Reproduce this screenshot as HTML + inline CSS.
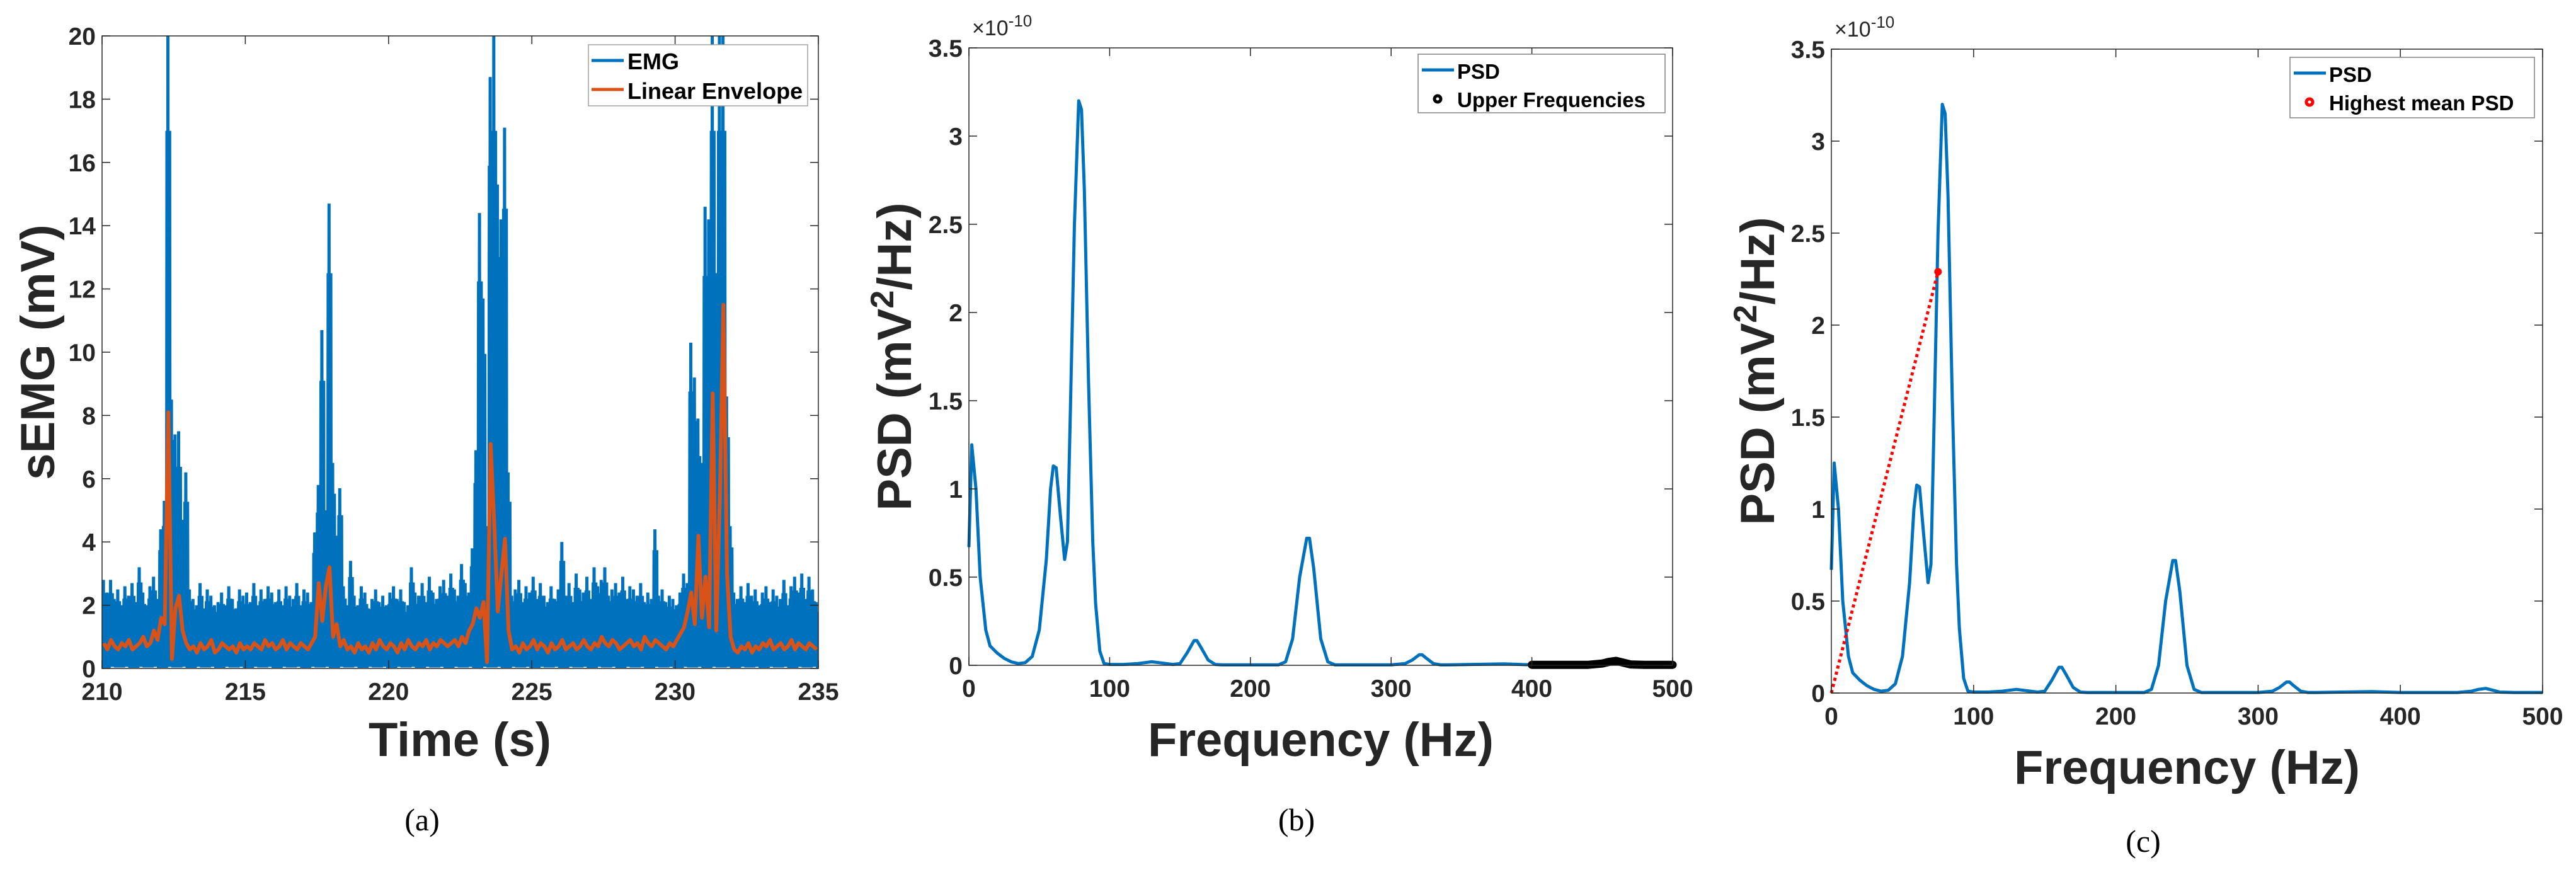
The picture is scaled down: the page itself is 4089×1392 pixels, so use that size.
<!DOCTYPE html>
<html><head><meta charset="utf-8"><style>
html,body{margin:0;padding:0;background:#fff;}
svg{display:block;font-family:"Liberation Sans",Arial,sans-serif;}
</style></head><body>
<svg id="fig" width="4089" height="1392" viewBox="0 0 4089 1392" xmlns="http://www.w3.org/2000/svg"></svg>
<script>
// ---- Panel (a) data: EMG bin maxima (0.125 s bins from 210 s) and linear envelope ----
const emgStart = 210;
const emgBin = 0.125;
const emgMax = [2.8,2.4,2.8,2.2,2.5,2.0,2.6,2.3,2.7,2.1,3.2,2.4,2.0,2.6,2.9,2.2,
4.4,5.3,20,8.5,7.4,7.5,4.7,6.2,
2.5,2.2,2.0,2.7,1.9,2.5,2.3,2.0,
2.1,2.4,2.0,2.6,2.2,1.9,2.5,2.3,2.4,2.1,2.7,2.0,2.5,2.2,2.6,2.4,
2.1,2.5,2.0,2.6,2.3,2.2,2.7,2.0,2.5,2.4,2.1,4.3,
5.8,10.7,5.0,14.7,6.5,4.2,5.7,2.6,
2.0,3.4,2.3,2.0,2.6,2.4,1.9,2.2,2.5,2.1,2.3,2.0,2.4,2.6,2.2,2.5,2.1,2.0,3.2,2.4,2.3,2.7,2.1,2.9,2.4,2.2,2.6,2.8,2.3,3.0,2.5,2.3,3.3,2.7,2.4,3.8,
6.9,14.4,11.7,4.5,18.7,20,15.3,14.2,17.1,6.2,
2.3,2.5,2.8,2.1,2.6,2.4,2.9,2.2,2.7,2.3,2.1,2.6,2.2,2.5,
4.0,
2.3,2.7,2.1,3.0,2.5,2.4,2.9,2.2,3.2,2.6,2.8,3.2,2.3,2.5,2.7,2.4,2.9,2.2,2.6,2.5,2.3,2.7,2.1,2.4,2.2,
4.4,
2.3,2.5,2.1,2.3,2.2,2.0,2.4,3.0,2.7,
10.3,9.2,7.9,6.5,14.6,14.2,20,12.5,20,20,8.6,4.5,
2.4,2.2,2.6,2.1,2.7,2.3,2.5,2.0,2.4,2.6,2.1,2.5,2.3,2.2,2.8,2.0,2.6,2.9,2.4,3.0,2.2,2.9,2.5,2.1];
const emgMin = [0.05,0.1,0.02,0.08,0.05,0.1,0.03,0.06];
const envelope = [0.8,0.6,0.9,0.7,0.6,0.8,0.7,0.9,0.6,0.7,0.8,1.0,0.7,0.8,1.2,0.9,
1.6,1.4,8.1,0.3,1.9,2.3,1.2,0.8,
0.6,0.7,0.5,0.8,0.6,0.7,0.9,0.5,0.6,0.8,0.7,0.6,0.7,0.5,0.8,0.6,0.7,0.6,0.8,0.7,0.6,0.9,0.7,0.8,0.6,0.7,0.9,0.6,0.8,0.7,0.6,0.8,0.7,0.6,0.8,1.0,
2.7,1.5,2.6,3.2,1.0,1.4,0.7,0.9,
0.6,0.7,0.5,0.8,0.6,0.7,0.5,0.8,0.6,0.9,0.7,0.6,0.8,0.7,0.5,0.8,0.6,0.9,0.7,0.6,0.8,0.7,0.9,0.6,0.8,0.7,0.9,0.8,0.7,0.8,0.9,0.7,1.0,0.8,1.2,1.4,
1.9,1.6,2.1,0.2,7.1,4.6,1.8,3.0,4.1,1.2,
0.6,0.7,0.5,0.8,0.6,0.7,0.9,0.6,0.8,0.7,0.5,0.8,0.6,0.7,0.9,0.6,0.7,0.8,0.6,0.7,0.9,0.7,0.6,0.8,0.7,1.0,0.8,0.7,0.9,0.8,0.6,0.7,0.8,0.9,0.7,0.8,0.6,1.0,0.8,0.7,0.9,0.8,0.7,0.6,0.8,0.7,0.9,1.1,1.3,1.8,
2.4,1.4,4.2,1.6,2.9,1.3,8.7,1.2,5.4,11.5,3.0,1.0,
0.6,0.5,0.7,0.6,0.8,0.5,0.7,0.6,0.8,0.7,0.9,0.6,0.7,0.8,0.6,0.7,0.9,0.6,0.8,0.7,0.6,0.8,0.7,0.6];
const aXTicks = [210,215,220,225,230,235];
const aYTicks = [0,2,4,6,8,10,12,14,16,18,20];

// ---- Panels (b),(c) PSD data (units of 1e-10 mV^2/Hz) ----
const psdFreq = [0,2,5,8,12,15,20,25,30,35,40,45,50,55,58,60,62,65,68,70,72,75,78,80,82,85,88,90,93,96,100,110,120,130,140,145,150,155,160,162,165,170,175,180,200,220,225,230,235,240,242,245,250,255,260,270,300,310,315,320,322,325,330,335,340,380,400,440,450,455,460,465,470,480,500];
const psdVal = [0.67,1.25,1.0,0.5,0.2,0.11,0.07,0.04,0.02,0.01,0.015,0.05,0.2,0.6,1.0,1.13,1.12,0.85,0.6,0.7,1.4,2.5,3.2,3.15,2.7,1.6,0.7,0.35,0.08,0.01,0.005,0.005,0.01,0.02,0.01,0.005,0.01,0.07,0.14,0.14,0.1,0.03,0.005,0.003,0.003,0.003,0.02,0.15,0.5,0.72,0.72,0.55,0.15,0.02,0.003,0.003,0.003,0.01,0.03,0.06,0.06,0.04,0.01,0.003,0.003,0.008,0.003,0.003,0.01,0.02,0.025,0.015,0.005,0.003,0.003];
const upperFreqStart = 400;
const highestMeanFreq = 75;
const highestMeanPSD = 2.29;
const fXTicks = [0,100,200,300,400,500];
const fYTicks = [0,0.5,1,1.5,2,2.5,3,3.5];
const fYLabels = ["0","0.5","1","1.5","2","2.5","3","3.5"];

const NS = "http://www.w3.org/2000/svg";
const svg = document.getElementById('fig');
function el(tag, attrs, parent, text){
  const e = document.createElementNS(NS, tag);
  for (const k in attrs) e.setAttribute(k, attrs[k]);
  if (text !== undefined) e.textContent = text;
  (parent||svg).appendChild(e);
  return e;
}
function scale(d0,d1,r0,r1){ return v => r0 + (v-d0)/(d1-d0)*(r1-r0); }

function axesBox(g, L, R, T, B, xTicks, xLab, xs, yTicks, yLab, ys){
  const tc = '#262626';
  const box = el('rect',{x:L,y:T,width:R-L,height:B-T,fill:'none',stroke:tc,'stroke-width':1.5},g);
  
  
  xTicks.forEach((t,i)=>{
    const x = xs(t);
    el('line',{x1:x,y1:B,x2:x,y2:B-13,stroke:tc,'stroke-width':1.5},g);
    el('line',{x1:x,y1:T,x2:x,y2:T+13,stroke:tc,'stroke-width':1.5},g);
    const tx = el('text',{x:x,y:B+50,'text-anchor':'middle','font-size':39,'font-weight':'bold',fill:tc},g,xLab[i]);
    
    
  });
  yTicks.forEach((t,i)=>{
    const y = ys(t);
    el('line',{x1:L,y1:y,x2:L+13,y2:y,stroke:tc,'stroke-width':1.5},g);
    el('line',{x1:R,y1:y,x2:R-13,y2:y,stroke:tc,'stroke-width':1.5},g);
    const ty = el('text',{x:L-10,y:y+14,'text-anchor':'end','font-size':39,'font-weight':'bold',fill:tc},g,yLab[i]);
    
    
  });
}

// ================= Panel (a) =================
(function(){
  const L=162,R=1299,T=57,B=1061;
  const g = el('g',{});
  
  
  const xs = scale(210,235,L,R), ys = scale(0,20,B,T);
  const clip = el('clipPath',{id:'clipA'},g);
  el('rect',{x:L,y:T,width:R-L,height:B-T},clip);
  // EMG
  let d = '';
  emgMax.forEach((v,i)=>{
    const t0 = emgStart + i*emgBin;
    const steps = 4;
    for (let k=0;k<steps;k++){
      const tA = t0 + emgBin*k/steps, tB = t0 + emgBin*(k+0.5)/steps;
      const hi = k===1 ? v : Math.min(v, emgMax[i]*0.85);
      d += (d? 'L':'M') + xs(tA).toFixed(1)+','+ys(emgMin[(i+k)%emgMin.length]).toFixed(1);
      d += 'L' + xs(tB).toFixed(1)+','+ys(hi).toFixed(1);
    }
  });
  const emg = el('path',{d:d,fill:'none',stroke:'#0072BD','stroke-width':5,'clip-path':'url(#clipA)'},g);
  
  
  let d2 = '';
  envelope.forEach((v,i)=>{
    const t = emgStart + (i+0.5)*emgBin;
    d2 += (i?'L':'M') + xs(t).toFixed(1)+','+ys(v).toFixed(1);
  });
  const env = el('path',{d:d2,fill:'none',stroke:'#D95319','stroke-width':6,'stroke-linejoin':'round','clip-path':'url(#clipA)'},g);
  
  
  axesBox(g,L,R,T,B,aXTicks,aXTicks.map(String),xs,aYTicks,aYTicks.map(String),ys);
  // legend
  const lg = el('g',{},g);
  
  
  el('rect',{x:934,y:71,width:348,height:97,fill:'#fff',stroke:'#a0a0a0','stroke-width':1.5},lg);
  el('line',{x1:939,y1:96,x2:990,y2:96,stroke:'#0072BD','stroke-width':5},lg);
  el('text',{x:996,y:110,'font-size':36,'font-weight':'bold',fill:'#000'},lg,'EMG');
  el('line',{x1:939,y1:142,x2:990,y2:142,stroke:'#D95319','stroke-width':5},lg);
  el('text',{x:996,y:157,'font-size':36,'font-weight':'bold',fill:'#000'},lg,'Linear Envelope');
  const xt = el('text',{x:730,y:1200,'text-anchor':'middle','font-size':76,'font-weight':'bold',fill:'#262626'},g,'Time (s)');
  
  
  const yt = el('text',{x:0,y:0,transform:'translate(86,559) rotate(-90)','text-anchor':'middle','font-size':76,'font-weight':'bold',fill:'#262626'},g,'sEMG (mV)');
  
  
  const cap = el('text',{x:670,y:1318,'text-anchor':'middle','font-size':50,'font-family':'Liberation Serif, serif',fill:'#000'},g,'(a)');
  
  
})();

function psdPanel(id, L,R,T,B, opts){
  const g = el('g',{});
  
  
  const xs = scale(0,500,L,R), ys = scale(0,3.5,B,T);
  let d='';
  psdFreq.forEach((f,i)=>{ d += (i?'L':'M')+xs(f).toFixed(1)+','+ys(psdVal[i]).toFixed(1); });
  const p = el('path',{d:d,fill:'none',stroke:'#0072BD','stroke-width':5,'stroke-linejoin':'round'},g);
  
  
  if (opts.upper){
    let du='';
    psdFreq.forEach((f,i)=>{ if (f>=upperFreqStart) du += (du?'L':'M')+xs(f).toFixed(1)+','+ys(psdVal[i]).toFixed(1); });
    const u = el('path',{d:du,fill:'none',stroke:'#000','stroke-width':13,'stroke-linecap':'round','stroke-linejoin':'round'},g);
    
    
  }
  if (opts.mean){
    const ml = el('line',{x1:xs(0),y1:ys(0),x2:xs(highestMeanFreq),y2:ys(highestMeanPSD),stroke:'#FF0000','stroke-width':5,'stroke-dasharray':'5,5'},g);
    
    
    const mp = el('circle',{cx:xs(highestMeanFreq),cy:ys(highestMeanPSD),r:6,fill:'#FF0000'},g);
    
    
  }
  axesBox(g,L,R,T,B,fXTicks,fXTicks.map(String),xs,fYTicks,fYLabels,ys);
  const ex = el('text',{x:L+5,y:T-20,'font-size':34,fill:'#262626'},g);
  
  
  ex.innerHTML = '×10<tspan dy="-14" font-size="26">-10</tspan>';
  const lg = el('g',{},g);
  
  
  const o = opts.leg;
  el('rect',{x:o.x,y:o.y,width:o.w,height:o.h,fill:'#fff',stroke:'#808080','stroke-width':1.5},lg);
  el('line',{x1:o.x+6,y1:o.y+25,x2:o.x+57,y2:o.y+25,stroke:'#0072BD','stroke-width':5},lg);
  el('text',{x:o.x+62,y:o.y+39,'font-size':33,'font-weight':'bold',fill:'#000'},lg,'PSD');
  el('circle',{cx:o.x+31,cy:o.y+71,r:5,fill:'#fff',stroke:o.mk,'stroke-width':5},lg);
  el('text',{x:o.x+62,y:o.y+84,'font-size':33,'font-weight':'bold',fill:'#000'},lg,o.label);
  const xt = el('text',{x:(L+R)/2,y:opts.xty,'text-anchor':'middle','font-size':76,'font-weight':'bold',fill:'#262626'},g,'Frequency (Hz)');
  
  
  const yt = el('text',{x:0,y:0,transform:'translate('+opts.ytx+','+((T+B)/2)+') rotate(-90)','text-anchor':'middle','font-size':76,'font-weight':'bold',fill:'#262626'},g);
  
  
  yt.innerHTML = 'PSD (mV<tspan dy="-28" font-size="52">2</tspan><tspan dy="28">/Hz)</tspan>';
  const cap = el('text',{x:opts.capx,y:opts.capy,'text-anchor':'middle','font-size':50,'font-family':'Liberation Serif, serif',fill:'#000'},g,opts.cap);
  
  
}
psdPanel('panel-b-psd-chart',1538,2655,76,1056,{upper:true,leg:{x:2251,y:86,w:392,h:93,mk:'#000',label:'Upper Frequencies'},xty:1200,ytx:1446,capx:2058,capy:1318,cap:'(b)'});
psdPanel('panel-c-psd-chart',2907,4036,78,1100,{mean:true,leg:{x:3635,y:91,w:388,h:96,mk:'#FF0000',label:'Highest mean PSD'},xty:1244,ytx:2816,capx:3402,capy:1352,cap:'(c)'});
</script>
</body></html>
